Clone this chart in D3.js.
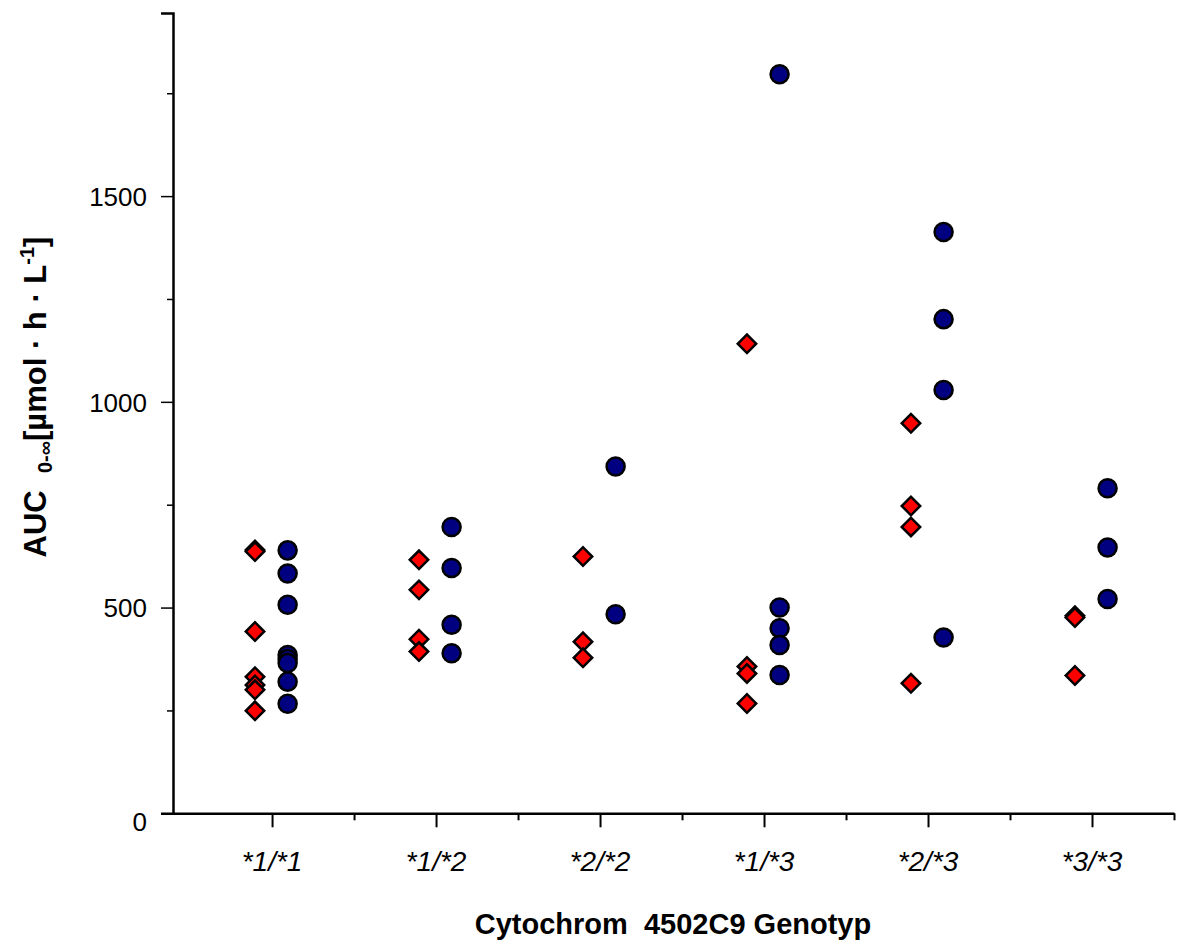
<!DOCTYPE html>
<html>
<head>
<meta charset="utf-8">
<script src="https://cdn.jsdelivr.net/npm/d3@7"></script>
<style>
  body { margin: 0; background: #fff; }
  text { font-family: "Liberation Sans", Arial, sans-serif; }
</style>
</head>
<body>
<div id="viz-container"></div>
<script>
let genotypes = ["*1/*1", "*1/*2", "*2/*2", "*1/*3", "*2/*3", "*3/*3"];

// red diamonds, one list per genotype
let redValues = [
    [640, 636, 442, 332, 312, 300, 249],
    [616, 543, 423, 393],
    [624, 417, 378],
    [1141, 357, 340, 267],
    [948, 747, 696, 316],
    [480, 476, 335]
];

// blue circles, one list per genotype
let blueValues = [
    [639, 583, 507, 385, 375, 365, 320, 266],
    [696, 596, 458, 389],
    [843, 484],
    [1796, 500, 450, 409, 336],
    [1413, 1201, 1029, 427],
    [790, 646, 521]
];

let majorY = [0, 500, 1000, 1500];
let minorY = [250, 750, 1250, 1750];

let viz = d3.select("#viz-container")
    .append("svg")
        .attr("width", 1187)
        .attr("height", 943);

let x = d3.scaleLinear().domain([0.396, 6.5]).range([173, 1174]);
let y = d3.scaleLinear().domain([0, 1945]).range([813.3, 13]);

// flatten to points
let redPts = [], bluePts = [];
genotypes.forEach((g, i) => {
    redValues[i].forEach(v => redPts.push({pos: i + 1, v: v}));
    blueValues[i].forEach(v => bluePts.push({pos: i + 1, v: v}));
});

// y axis
let yAxis = viz.append("g")
    .attr("transform", "translate(" + x(0.396) + ",0)")
    .call(d3.axisLeft(y).tickValues(majorY).tickSize(12).tickPadding(14).tickFormat(d3.format("d")));
yAxis.select(".domain").attr("stroke-width", 2.5);
yAxis.selectAll(".tick line").attr("stroke-width", 1.5);
yAxis.selectAll("text")
    .attr("font-size", 26)
    .attr("font-family", "'Liberation Sans', Arial, sans-serif")
    .attr("fill", "#000")
    .attr("dy", d => d === 0 ? "0.65em" : "0.36em");

let yMinor = viz.append("g")
    .attr("transform", "translate(" + x(0.396) + ",0)")
    .call(d3.axisLeft(y).tickValues(minorY).tickSize(6).tickFormat(""));
yMinor.select(".domain").remove();
yMinor.selectAll(".tick line").attr("stroke-width", 1.5);

// x axis
let xAxis = viz.append("g")
    .attr("transform", "translate(0," + y(0) + ")")
    .call(d3.axisBottom(x).tickValues(d3.range(1, 7)).tickSize(14).tickSizeOuter(0).tickFormat(""));
xAxis.select(".domain").attr("stroke-width", 2.5);
xAxis.selectAll(".tick line").attr("stroke-width", 2);

let xMinor = viz.append("g")
    .attr("transform", "translate(0," + y(0) + ")")
    .call(d3.axisBottom(x).tickValues(d3.range(1, 7).map(d => d + 0.5)).tickSize(7).tickFormat(""));
xMinor.select(".domain").remove();
xMinor.selectAll(".tick line").attr("stroke-width", 2);

// category labels
viz.selectAll(".catText").data(genotypes).enter()
    .append("text")
        .attr("class", "catText")
        .attr("x", (d, i) => x(i + 1))
        .attr("y", 871)
        .attr("text-anchor", "middle")
        .attr("font-size", 28)
        .attr("font-style", "italic")
        .text(d => d);

// diamonds
viz.selectAll(".redPt").data(redPts).enter()
    .append("path")
        .attr("class", "redPt")
        .attr("d", d3.symbol().type(d3.symbolSquare).size(170))
        .attr("transform", d => "translate(" + x(d.pos - 0.104) + "," + y(d.v) + ") rotate(45)")
        .attr("fill", "#ff0000")
        .attr("stroke", "#000")
        .attr("stroke-width", 2.5);

// circles
viz.selectAll(".bluePt").data(bluePts).enter()
    .append("path")
        .attr("class", "bluePt")
        .attr("d", d3.symbol().type(d3.symbolCircle).size(255))
        .attr("transform", d => "translate(" + x(d.pos + 0.095) + "," + y(d.v) + ")")
        .attr("fill", "#000080")
        .attr("stroke", "#000")
        .attr("stroke-width", 2.5);

// x title
viz.append("text")
    .attr("x", 673)
    .attr("y", 934)
    .attr("text-anchor", "middle")
    .attr("font-size", 29)
    .attr("font-weight", "bold")
    .attr("xml:space", "preserve")
    .text("Cytochrom  4502C9 Genotyp");

// y title
let yt = viz.append("text")
    .attr("transform", "translate(46,397) rotate(-90)")
    .attr("text-anchor", "middle")
    .attr("font-size", 31)
    .attr("font-weight", "bold")
    .attr("xml:space", "preserve");
yt.append("tspan").text("AUC  ");
yt.append("tspan").attr("font-size", 20).attr("dy", 6).text("0-∞");
yt.append("tspan").attr("dy", -6).text("[µmol · h · L");
yt.append("tspan").attr("font-size", 20).attr("dy", -12).text("-1");
yt.append("tspan").attr("dy", 12).text("]");
</script>
</body>
</html>
